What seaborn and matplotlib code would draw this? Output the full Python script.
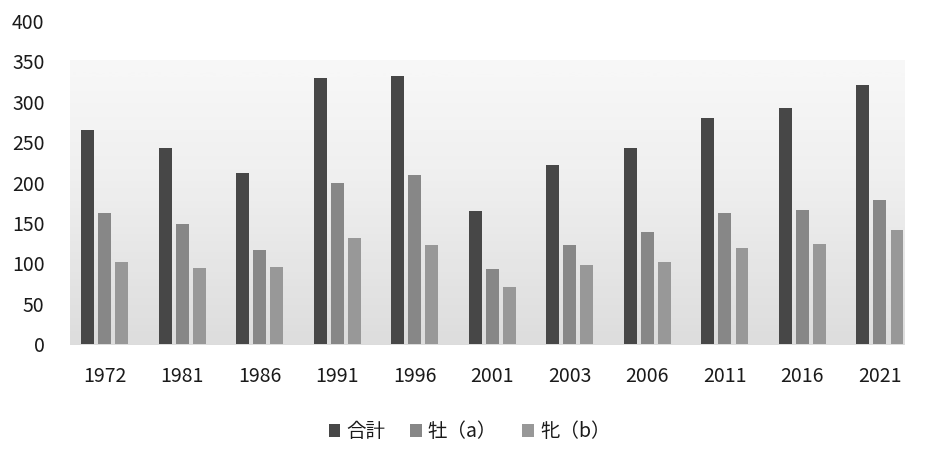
import numpy as np
import pandas as pd
import matplotlib
matplotlib.use("Agg")
import matplotlib.pyplot as plt
import seaborn as sns

years = ["1972", "1981", "1986", "1991", "1996", "2001", "2003", "2006", "2011", "2016", "2021"]
total = [265, 243, 212, 329, 332, 165, 222, 243, 280, 292, 321]
male = [162, 149, 116, 200, 209, 93, 123, 139, 162, 166, 178]
female = [102, 94, 95, 132, 123, 71, 98, 102, 119, 124, 141]
series_names = ["合計", "牡（a）", "牝（b）"]
yticks = [0, 50, 100, 150, 200, 250, 300, 350, 400]

df = pd.DataFrame({
    "year": years * 3,
    "value": total + male + female,
    "series": [series_names[0]] * len(years) + [series_names[1]] * len(years) + [series_names[2]] * len(years),
})

sns.set_theme(style="white")
plt.rcParams["font.family"] = ["Noto Sans CJK JP", "DejaVu Sans"]

fig = plt.figure(figsize=(9.39, 4.67), dpi=100)

# subtle grey gradient background panel behind the plot
bg = fig.add_axes([70 / 939, 1 - 345 / 467, (905 - 70) / 939, (345 - 60) / 467], zorder=0)
grad = np.linspace(0, 1, 256).reshape(-1, 1)
bg.imshow(grad, cmap="Greys", vmin=-0.35, vmax=5.5, aspect="auto", origin="upper")
bg.set_axis_off()

ax = fig.add_axes([0.0703, 0.263, 0.908, 0.692], zorder=1)
ax.patch.set_alpha(0)

palette = {series_names[0]: "#474747", series_names[1]: "#878787", series_names[2]: "#989898"}
sns.barplot(data=df, x="year", y="value", hue="series", palette=palette, ax=ax,
            width=0.66, gap=0.25, saturation=1, linewidth=0, legend=True)

ax.set_ylim(0, 400)
ax.set_xlim(-0.5, len(years) - 0.5)
ax.set_yticks(yticks)
ax.set_yticklabels([str(v) for v in yticks], fontsize=14, color="#1a1a1a")
ax.tick_params(axis="x", labelsize=14, colors="#1a1a1a", pad=10)
ax.tick_params(axis="y", pad=9.5)
ax.set_xlabel("")
ax.set_ylabel("")
for s in ax.spines.values():
    s.set_visible(False)
ax.grid(False)

ax.legend(loc="center", bbox_to_anchor=(0.5, 0.075), bbox_transform=fig.transFigure, ncol=3,
          frameon=False, fontsize=14, handlelength=0.6, handleheight=0.6, handletextpad=0.3,
          columnspacing=1.3, labelcolor="#1a1a1a")

fig.savefig("out.png", dpi=100, facecolor="white")
